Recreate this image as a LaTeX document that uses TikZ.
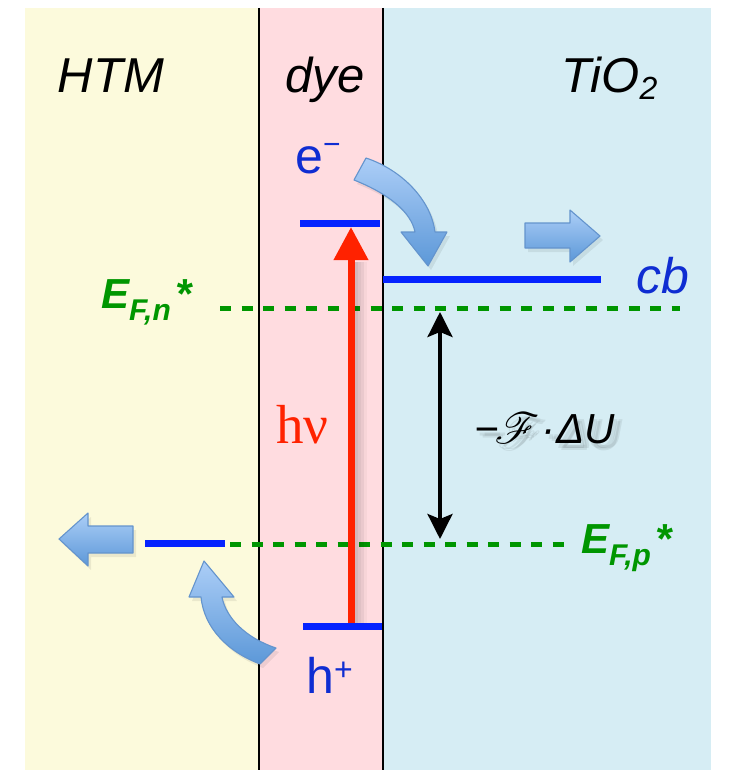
\documentclass[tikz,border=0pt]{standalone}
\usepackage{fontspec}
\setmainfont{Liberation Sans}
\newfontfamily\seriffam{Liberation Serif}
\usepackage{mathrsfs}
\usetikzlibrary{arrows.meta}

\definecolor{htmbg}{RGB}{252,250,220}
\definecolor{dyebg}{RGB}{255,220,224}
\definecolor{tiobg}{RGB}{214,237,244}
\definecolor{levelblue}{RGB}{5,35,255}
\definecolor{textblue}{RGB}{15,45,210}
\definecolor{fermigreen}{RGB}{0,150,0}
\definecolor{photored}{RGB}{255,34,0}
\definecolor{arrowtop}{RGB}{172,206,247}
\definecolor{arrowbot}{RGB}{92,152,216}
\definecolor{arrowedge}{RGB}{100,148,205}

% script F of the Faraday constant, drawn at a large size
\newcommand{\bigscriptF}{\scalebox{2.1}{\fontsize{20.74}{21}\selectfont$\mathscr{F}$}}
\newcommand{\voltagetext}{−\hspace{-4pt}\bigscriptF\hspace{2pt}·\hspace{1pt}ΔU}

\begin{document}
\begin{tikzpicture}[x=1pt,y=-1pt,
  divider/.style={black, line width=1.6pt},
  level/.style={levelblue, line width=7pt},
  fermiline/.style={fermigreen, line width=5pt, dash pattern=on 11pt off 10.5pt},
  layerlabel/.style={inner sep=0pt, anchor=base, font=\fontsize{49}{49}\selectfont\itshape},
  carrier/.style={inner sep=0pt, anchor=base west, text=textblue, font=\fontsize{50}{50}\selectfont},
  fermilabel/.style={inner sep=0pt, anchor=base west, text=fermigreen, font=\fontsize{42}{42}\selectfont\bfseries\itshape},
  blockarrow/.style={top color=arrowtop, bottom color=arrowbot, draw=arrowedge, line width=1.1pt, line join=round},
  arrowshade/.style={fill=black, opacity=0.07},
  photon/.style={photored, line width=7pt, -{Triangle[length=33pt,width=33pt]}},
  gap/.style={black, line width=3.5pt, {Stealth[length=25pt,width=25pt,inset=5pt]}-{Stealth[length=25pt,width=25pt,inset=5pt]}},
  gaplabel/.style={inner sep=0pt, anchor=base west, font=\fontsize{42}{42}\selectfont\itshape}
]
\useasboundingbox (0,0) rectangle (728,770);

% the three layers of the cell
\fill[htmbg] (25,8) rectangle (259,770);
\fill[dyebg] (259,8) rectangle (383,770);
\fill[tiobg] (383,8) rectangle (711,770);
\draw[divider] (259,8) -- (259,770);
\draw[divider] (383,8) -- (383,770);

\node[layerlabel] (htm) at (111,93) {HTM};
\node[layerlabel] (dye) at (325,93) {dye};
\node[layerlabel, anchor=base west] (tio) at (561,93) {TiO\raisebox{-7pt}{\fontsize{32}{32}\selectfont 2}};

% quasi-Fermi levels
\coordinate (fnL) at (220,308);
\coordinate (fnR) at (680,308);
\coordinate (fpL) at (230,544);
\coordinate (fpR) at (564,544);
\draw[fermiline] (fnL) -- (fnR);
\draw[fermiline] (fpL) -- (fpR);

% energy levels
\coordinate (lumoL) at (300,223);
\coordinate (lumoR) at (380,223);
\coordinate (cbL) at (383,279);
\coordinate (cbR) at (601,279);
\coordinate (htmL) at (145,543);
\coordinate (htmR) at (225,543);
\coordinate (homoL) at (303,626);
\coordinate (homoR) at (382,626);
\draw[level] (lumoL) -- (lumoR);
\draw[level] (cbL) -- (cbR);
\draw[level] (htmL) -- (htmR);

% soft shadow of the excitation arrow
\foreach \dx/\op in {4/0.10,7/0.07,10/0.05,13/0.03}
  \draw[black, line width=6pt, opacity=\op] (351+\dx,628) -- (351+\dx,262);
\draw[level] (homoL) -- (homoR);

% photo-excitation
\coordinate (exc0) at (351,623);
\coordinate (exc1) at (351,227);
\draw[photon] (exc0) -- (exc1);

% electron injection into TiO2
\fill[arrowshade] ([shift={(3,4)}]366,158) .. controls ([shift={(3,4)}]402,170) and ([shift={(3,4)}]431,200) .. ([shift={(3,4)}]435,232)
  -- ([shift={(3,4)}]447,232) -- ([shift={(3,4)}]428,266) -- ([shift={(3,4)}]401,232) -- ([shift={(3,4)}]415,232)
  .. controls ([shift={(3,4)}]411,212) and ([shift={(3,4)}]389,194) .. ([shift={(3,4)}]354,180) -- cycle;
\path[blockarrow] (366,158) .. controls (402,170) and (431,200) .. (435,232)
  -- (447,232) -- (428,266) -- (401,232) -- (415,232)
  .. controls (411,212) and (389,194) .. (354,180) -- cycle;

% electron transport in TiO2
\fill[arrowshade] (528,227) -- (573,227) -- (573,214) -- (603,240) -- (573,266) -- (573,252) -- (528,252) -- cycle;
\path[blockarrow] (525,223) -- (570,223) -- (570,210) -- (600,236) -- (570,262) -- (570,248) -- (525,248) -- cycle;

% hole injection into the HTM
\fill[arrowshade] (263,668) .. controls (231,656) and (207,632) .. (204,601)
  -- (192,601) -- (207,565) -- (237,601) -- (225,601)
  .. controls (229,622) and (249,642) .. (279,652) -- cycle;
\path[blockarrow] (260,664) .. controls (228,652) and (204,628) .. (201,597)
  -- (189,597) -- (204,561) -- (234,597) -- (222,597)
  .. controls (226,618) and (246,638) .. (276,648) -- cycle;

% hole transport in the HTM
\fill[arrowshade] (136,530) -- (91,530) -- (91,517) -- (62,543) -- (91,570) -- (91,557) -- (136,557) -- cycle;
\path[blockarrow] (133,526) -- (88,526) -- (88,513) -- (59,539) -- (88,566) -- (88,553) -- (133,553) -- cycle;

% photovoltage
\coordinate (gapTop) at (440,312);
\coordinate (gapBot) at (440,539);
\draw[gap] (gapTop) -- (gapBot);

\foreach \dx/\dy [count=\k] in {3/5,6/7,8/5}
  \node[gaplabel, text=black, opacity=0.07] (gapshadow\k) at (474+\dx,443+\dy) {\voltagetext};
\node[gaplabel] (gaplbl) at (474,443) {\voltagetext};

% labels
\node[carrier] (elec) at (295,173) {e\raisebox{18pt}{\fontsize{30}{30}\selectfont −}};
\node[carrier] (hole) at (306,693) {h\raisebox{13pt}{\fontsize{32}{32}\selectfont +}};
\node[carrier, font=\fontsize{50}{50}\selectfont\itshape] (cb) at (636,293) {cb};
\node[inner sep=0pt, anchor=base west, text=photored, font=\seriffam\fontsize{55}{55}\selectfont] (hnu) at (276,443) {hν};

\node[fermilabel] (efn) at (101,308) {E\raisebox{-12pt}{\fontsize{30}{30}\selectfont F,n}\hspace{5pt}*};
\node[fermilabel] (efp) at (581,553) {E\raisebox{-12pt}{\fontsize{30}{30}\selectfont F,p}\hspace{5pt}*};
\end{tikzpicture}
\end{document}
